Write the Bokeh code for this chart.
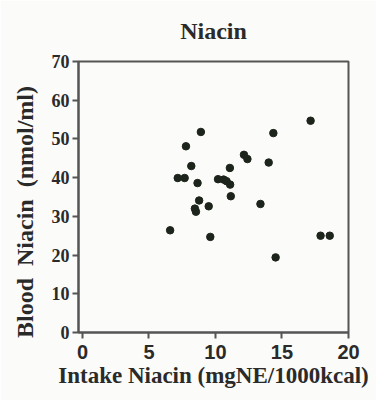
from bokeh.plotting import figure
from bokeh.models import ColumnDataSource, Range1d, FixedTicker
from bokeh.embed import file_html
from bokeh.resources import INLINE

intake_niacin = [17.15, 8.9, 14.35, 7.78, 12.14, 12.4, 14.0, 8.18, 11.08, 7.16,
                 7.68, 8.65, 10.19, 10.61, 10.83, 11.1, 11.15, 8.77, 9.49, 8.45,
                 8.53, 13.38, 6.59, 9.61, 17.9, 18.59, 14.52]
blood_niacin = [54.7, 51.8, 51.5, 48.1, 45.9, 44.8, 43.9, 43.0, 42.5, 39.9,
                39.9, 38.6, 39.6, 39.5, 39.1, 38.2, 35.2, 34.1, 32.6, 32.0,
                31.2, 33.2, 26.4, 24.7, 25.0, 25.0, 19.4]
x_ticks = [0, 5, 10, 15, 20]
y_ticks = [0, 10, 20, 30, 40, 50, 60, 70]
title_text = "Niacin"

src = ColumnDataSource(data=dict(x=intake_niacin, y=blood_niacin))

p = figure(width=376, height=400, output_backend="svg", toolbar_location=None,
           x_range=Range1d(-0.3, 20), y_range=Range1d(0, 70),
           min_border_left=78, min_border_right=28, min_border_top=61,
           min_border_bottom=68, title=title_text)

p.background_fill_color = "#fbfbf9"
p.border_fill_color = "#fbfbf9"
p.grid.visible = False
p.outline_line_color = "#555555"
p.outline_line_width = 2

p.title.text_font = "Liberation Serif"
p.title.text_font_size = "24px"
p.title.text_font_style = "bold"
p.title.text_color = "#2a2a2a"
p.title.align = "center"
p.title.vertical_align = "top"
p.title.standoff = 32

p.scatter("x", "y", source=src, size=7.5, color="#1c241c")

for ax in (p.xaxis[0], p.yaxis[0]):
    ax.axis_line_color = "#555555"
    ax.axis_line_width = 2
    ax.major_tick_line_color = "#555555"
    ax.major_tick_line_width = 2
    ax.major_tick_in = 0
    ax.major_tick_out = 6
    ax.minor_tick_line_color = None
    ax.axis_label_text_font = "Liberation Serif"
    ax.axis_label_text_font_style = "bold"
    ax.axis_label_text_color = "#2a2a2a"
    ax.major_label_text_color = "#2a2a2a"

p.xaxis.ticker = FixedTicker(ticks=x_ticks)
p.yaxis.ticker = FixedTicker(ticks=y_ticks)
p.xaxis.axis_label = "Intake Niacin (mgNE/1000kcal)"
p.yaxis.axis_label = "Blood\u00a0 Niacin\u00a0 (nmol/ml)\u00a0\u00a0\u00a0\u00a0\u00a0"
p.xaxis.axis_label_text_font_size = "23px"
p.yaxis.axis_label_text_font_size = "24px"
p.xaxis.major_label_text_font = "Liberation Sans"
p.xaxis.major_label_text_font_style = "bold"
p.xaxis.major_label_text_font_size = "20px"
p.yaxis.major_label_text_font = "Liberation Serif"
p.yaxis.major_label_text_font_style = "bold"
p.yaxis.major_label_text_font_size = "18px"
p.xaxis.major_label_standoff = 6
p.yaxis.major_label_standoff = 3
p.xaxis.axis_label_standoff = 1
p.yaxis.axis_label_standoff = 11

open("out.html", "w").write(file_html(p, INLINE))
